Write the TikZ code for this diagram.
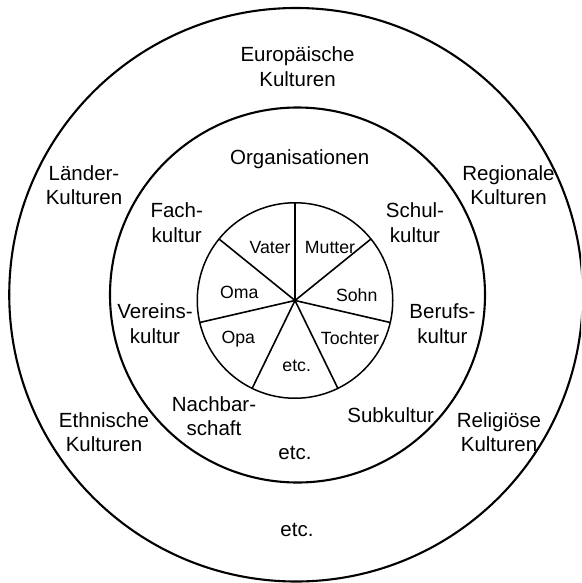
\documentclass[tikz,border=0pt]{standalone}
\usepackage{fontspec}
\setmainfont{Liberation Sans}
\begin{document}
\begin{tikzpicture}[x=1pt,y=-1pt,
  ring/.style={draw, circle, line width=2.1pt, inner sep=0pt, outer sep=0pt},
  pie/.style={draw, circle, line width=1.5pt, inner sep=0pt, outer sep=0pt},
  spoke/.style={line width=1.6pt},
  big/.style={align=center, anchor=base, inner sep=0pt,
    font=\fontsize{20.5}{24.7}\selectfont},
  small/.style={align=center, anchor=base, inner sep=0pt,
    font=\fontsize{17.7}{21}\selectfont}]
\useasboundingbox (0,0) rectangle (581,583);
\clip (0,0) rectangle (581,583);

% three nested circles
\node[ring, minimum size=573.5pt] (world) at (296,294.75) {};
\node[ring, minimum size=375pt] (orgs) at (297.5,295) {};
\node[pie, minimum size=195.5pt] (family) at (295,300.5) {};

% seven equal sectors of the family circle
\foreach \a in {90,39,347,296,244,193,141}
  \draw[spoke] (family.center) -- (family.\a);

% outer ring (two-line labels sit on the baseline of their last line)
\node[big] (europa) at (297.5,86.7) {Europäische\\Kulturen};
\node[big] (laender) at (84,204.7) {Länder-\\Kulturen};
\node[big] (regional) at (508.5,204.7) {Regionale\\Kulturen};
\node[big] (ethnisch) at (104,451.7) {Ethnische\\Kulturen};
\node[big] (religion) at (499,451.7) {Religiöse\\Kulturen};
\node[big] (etcouter) at (297,536) {etc.};

% middle ring
\node[big] (organis) at (299.7,164.3) {Organisationen};
\node[big] (fach) at (176.7,242.4) {Fach-\\kultur};
\node[big] (schul) at (415,242.4) {Schul-\\kultur};
\node[big] (verein) at (155,343.4) {Vereins-\\kultur};
\node[big] (beruf) at (442.5,343.4) {Berufs-\\kultur};
\node[big] (nachbar) at (214,435.7) {Nachbar-\\schaft};
\node[big] (sub) at (390.7,422) {Subkultur};
\node[big] (etcmid) at (295,459.5) {etc.};

% family sectors
\node[small] (vater) at (270,253.3) {Vater};
\node[small] (mutter) at (330,253.3) {Mutter};
\node[small] (sohn) at (356.7,301) {Sohn};
\node[small] (tochter) at (350,344) {Tochter};
\node[small] (etcinner) at (296.7,371) {etc.};
\node[small] (opa) at (238.3,343.5) {Opa};
\node[small] (oma) at (239.3,298.5) {Oma};
\end{tikzpicture}
\end{document}
